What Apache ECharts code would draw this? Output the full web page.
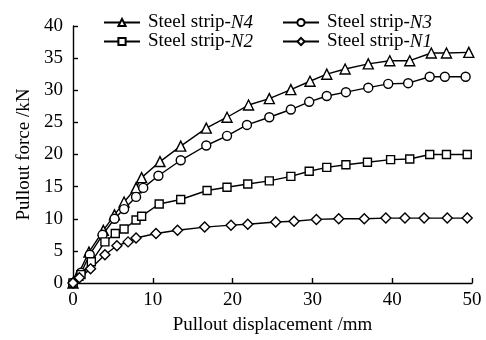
<!DOCTYPE html>
<html>
<head>
<meta charset="utf-8">
<script src="https://cdn.jsdelivr.net/npm/echarts@6/dist/echarts.min.js"></script>
<style>
  html, body { margin: 0; padding: 0; background: #fff; }
  #chart { width: 486px; height: 340px; }
</style>
</head>
<body>
<div id="chart"></div>
<script>
  // Values: [displacement mm, force kN]
  const seriesNames = ["Steel strip-N4", "Steel strip-N3", "Steel strip-N2", "Steel strip-N1"]
  const xTicks = [0, 10, 20, 30, 40, 50]
  const yTicks = [0, 5, 10, 15, 20, 25, 30, 35, 40]

  const stripN4 = [
    [0, 0], [0.6, 1.2], [2.0, 4.8], [3.8, 8.2], [5.2, 10.6], [6.4, 12.6], [7.9, 14.8],
    [8.6, 16.4], [10.9, 18.9], [13.5, 21.3], [16.7, 24.1], [19.3, 25.8], [22.0, 27.7],
    [24.6, 28.7], [27.3, 30.1], [29.7, 31.4], [31.8, 32.5], [34.1, 33.3], [37.0, 34.1],
    [39.7, 34.6], [42.2, 34.6], [44.9, 35.8], [46.8, 35.8], [49.6, 35.9]
  ]
  const stripN3 = [
    [0, 0], [1.0, 1.6], [2.1, 4.4], [3.7, 7.5], [5.2, 10.0], [6.4, 11.5], [7.9, 13.4],
    [8.8, 14.8], [10.7, 16.7], [13.5, 19.1], [16.7, 21.4], [19.3, 22.9], [21.8, 24.6],
    [24.6, 25.8], [27.3, 27.0], [29.6, 28.2], [31.8, 29.1], [34.2, 29.7], [37.0, 30.4],
    [39.5, 31.0], [42.0, 31.1], [44.7, 32.1], [46.6, 32.1], [49.2, 32.1]
  ]
  const stripN2 = [
    [0, 0], [1.0, 1.3], [2.3, 3.3], [4.0, 6.4], [5.3, 7.7], [6.4, 8.4], [7.9, 9.8],
    [8.6, 10.4], [10.8, 12.3], [13.5, 13.0], [16.8, 14.4], [19.3, 14.9], [21.9, 15.4],
    [24.6, 15.9], [27.3, 16.6], [29.6, 17.4], [31.8, 18.0], [34.2, 18.4], [36.9, 18.8],
    [39.8, 19.2], [42.2, 19.3], [44.7, 20.0], [46.8, 20.0], [49.4, 20.0]
  ]
  const stripN1 = [
    [0, 0], [0.8, 0.8], [2.2, 2.2], [4.0, 4.4], [5.5, 5.8], [6.9, 6.4], [7.9, 7.0],
    [10.4, 7.7], [13.1, 8.2], [16.5, 8.7], [19.8, 9.0], [21.9, 9.15], [25.4, 9.5],
    [27.7, 9.6], [30.5, 9.9], [33.3, 10.0], [36.5, 10.0], [39.2, 10.1], [41.6, 10.1],
    [44.0, 10.1], [46.9, 10.1], [49.4, 10.1]
  ]

  const font = "'Liberation Serif', 'Times New Roman', serif"
  const fs = 19

  function line(name, data, symbol, size) {
    return {
      name, type: "line", data, symbol, symbolSize: size,
      showAllSymbol: true,
      lineStyle: { color: "#000", width: 1.4 },
      itemStyle: { color: "#fff", borderColor: "#000", borderWidth: 1.4 },
      emphasis: { disabled: true },
      animation: false
    }
  }

  // legend label: "Steel strip-" upright, "N4" italic
  function legendText(name) {
    const parts = name.split("-")
    return "{n|" + parts[0] + "-}{i|" + parts[1] + "}"
  }
  const legendRich = {
    n: { fontFamily: font, fontSize: fs, lineHeight: 19, color: "#000" },
    i: { fontFamily: font, fontSize: fs, lineHeight: 19, fontStyle: "italic", color: "#000" }
  }
  const legendBase = {
    orient: "vertical", top: 8, itemWidth: 36, itemHeight: 9, itemGap: 0,
    selectedMode: false, formatter: legendText,
    textStyle: { rich: legendRich, padding: [0, 0, 0, 3] }
  }

  const chart = echarts.init(document.getElementById("chart"))
  chart.setOption({
    backgroundColor: "#fff",
    animation: false,
    legend: [
      Object.assign({}, legendBase, { left: 98, data: [seriesNames[0], seriesNames[2]] }),
      Object.assign({}, legendBase, { left: 277, data: [seriesNames[1], seriesNames[3]] })
    ],
    grid: { left: 73, right: 14, top: 26, bottom: 55, containLabel: false },
    xAxis: {
      type: "value", min: xTicks[0], max: xTicks[xTicks.length - 1], interval: 10,
      name: "Pullout displacement /mm", nameLocation: "middle", nameGap: 33,
      nameTextStyle: { fontFamily: font, fontSize: fs, color: "#000" },
      axisLine: { lineStyle: { color: "#000", width: 1.4 } },
      axisTick: { inside: true, length: 5, lineStyle: { color: "#000", width: 1.4 } },
      axisLabel: { fontFamily: font, fontSize: fs, color: "#000", margin: 8 },
      splitLine: { show: false }
    },
    yAxis: {
      type: "value", min: yTicks[0], max: yTicks[yTicks.length - 1], interval: 5,
      name: "Pullout force /kN", nameLocation: "middle", nameGap: 38,
      nameTextStyle: { fontFamily: font, fontSize: fs, color: "#000" },
      axisLine: { show: true, lineStyle: { color: "#000", width: 1.4 } },
      axisTick: { show: true, inside: true, length: 5, lineStyle: { color: "#000", width: 1.4 } },
      axisLabel: { fontFamily: font, fontSize: fs, color: "#000", margin: 10 },
      splitLine: { show: false }
    },
    series: [
      line(seriesNames[0], stripN4, "triangle", 10),
      line(seriesNames[1], stripN3, "circle", 9),
      line(seriesNames[2], stripN2, "rect", 8),
      line(seriesNames[3], stripN1, "diamond", 10)
    ]
  })
</script>
</body>
</html>
